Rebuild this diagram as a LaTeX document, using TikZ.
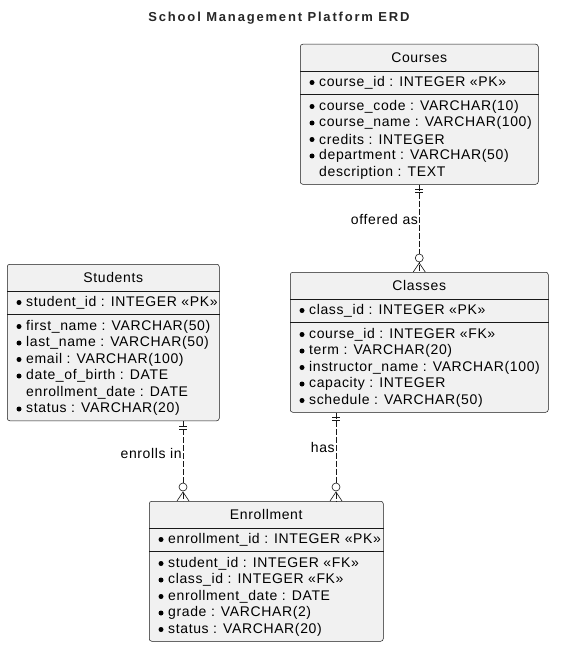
\documentclass[tikz,border=0pt]{standalone}
\usepackage{fontspec}
\setmainfont{Liberation Sans}[LetterSpace = 4.5]
\newfontfamily\titlefont{Liberation Sans}[LetterSpace = 14]
\usetikzlibrary{positioning}
\definecolor{boxfill}{HTML}{F1F1F1}
\definecolor{boxline}{HTML}{181818}
\tikzset{
  tablebox/.style = {draw = boxline, fill = boxfill, rounded corners = 2.5, line width = 0.5, inner sep = 0},
  header/.style = {inner sep = 0, font = \fontsize{14}{16}\selectfont},
  row/.style = {anchor = west, inner sep = 0, font = \fontsize{14}{16}\selectfont},
  key/.style = {fill, circle, inner sep = 0, minimum size = 5},
  sepline/.style = {draw = boxline, line width = 0.5},
  rel/.style = {draw = boxline, line width = 0.6, dash pattern = on 6pt off 2pt},
  rellabel/.style = {left, inner sep = 1, font = \fontsize{14}{16}\selectfont},
  onemark/.pic = {\draw[boxline, line width = 0.6] (-4, 5) -- (4, 5) (-4, 8) -- (4, 8);},
  manymark/.pic = {\draw[boxline, line width = 0.6] (-6, 0) -- (0, -9) -- (6, 0);
    \draw[boxline, line width = 0.6, fill = white] (0, -14) circle (4);}
}
% box, header, separators and primary key of one table
\newcommand{\entity}[7]{%
  \node[tablebox, minimum width = #4, minimum height = 57.5 + 16.5*#5, anchor = north west] (#1) at (#2, #3) {};
  \node[header] (#1 head) at ([yshift = -13.5pt]#1.north) {#6};
  \draw[sepline] ([yshift = -27pt]#1.north west) -- ([yshift = -27pt]#1.north east);
  \node[key] at ([xshift = 12pt, yshift = -38.5pt]#1.north west) {};
  \node[row] (#1 pk) at ([xshift = 19pt, yshift = -38.5pt]#1.north west) {#7};
  \draw[sepline, line width = 1.4] ([yshift = -50.5pt]#1.north west) -- ([yshift = -50.5pt]#1.north east);
}
% remaining attributes, 1 = with bullet
\newcommand{\attrs}[2]{%
  \foreach \k/\t [count = \i] in {#2} {
    \ifnum\k=1
      \node[key] at ([xshift = 12pt, yshift = {-46pt - 16.5pt*\i}]#1.north west) {};
    \fi
    \node[row] (#1 row\i) at ([xshift = 19pt, yshift = {-46pt - 16.5pt*\i}]#1.north west) {\t};
  }
}

\begin{document}
\begin{tikzpicture}[x = 1pt, y = -1pt]
    \useasboundingbox (0, 0) rectangle (563, 655);

    \node[font = \titlefont\bfseries\fontsize{13}{15}\selectfont, text = black!85] (title) at (279, 18) {School Management Platform ERD};

    \entity{courses}{300}{44}{238}{5}{Courses}{course\_id : INTEGER «PK»}
    \attrs{courses}{1/course\_code : VARCHAR(10), 1/course\_name : VARCHAR(100), 1/credits : INTEGER,
      1/department : VARCHAR(50), 0/description : TEXT}

    \entity{classes}{290}{272}{258}{5}{Classes}{class\_id : INTEGER «PK»}
    \attrs{classes}{1/course\_id : INTEGER «FK», 1/term : VARCHAR(20), 1/instructor\_name : VARCHAR(100),
      1/capacity : INTEGER, 1/schedule : VARCHAR(50)}

    \entity{students}{7}{264}{212}{6}{Students}{student\_id : INTEGER «PK»}
    \attrs{students}{1/first\_name : VARCHAR(50), 1/last\_name : VARCHAR(50), 1/email : VARCHAR(100),
      1/date\_of\_birth : DATE, 0/enrollment\_date : DATE, 1/status : VARCHAR(20)}

    \entity{enrl}{149}{501}{234}{5}{Enrollment}{enrollment\_id : INTEGER «PK»}
    \attrs{enrl}{1/student\_id : INTEGER «FK», 1/class\_id : INTEGER «FK», 1/enrollment\_date : DATE,
      1/grade : VARCHAR(2), 1/status : VARCHAR(20)}

    % relationships
    \coordinate (enrolls) at (183, 0);
    \coordinate (has) at (336, 0);

    \draw[rel] (courses.south) -- node[rellabel, pos = 0.4] {offered as} (classes.north);
    \pic at (courses.south) {onemark};
    \pic at (classes.north) {manymark};

    \draw[rel] (students.south -| enrolls) -- node[rellabel, pos = 0.4] {enrolls in} (enrl.north -| enrolls);
    \pic at (students.south -| enrolls) {onemark};
    \pic at (enrl.north -| enrolls) {manymark};

    \draw[rel] (classes.south -| has) -- node[rellabel, pos = 0.4] {has} (enrl.north -| has);
    \pic at (classes.south -| has) {onemark};
    \pic at (enrl.north -| has) {manymark};
  \end{tikzpicture}
\end{document}
